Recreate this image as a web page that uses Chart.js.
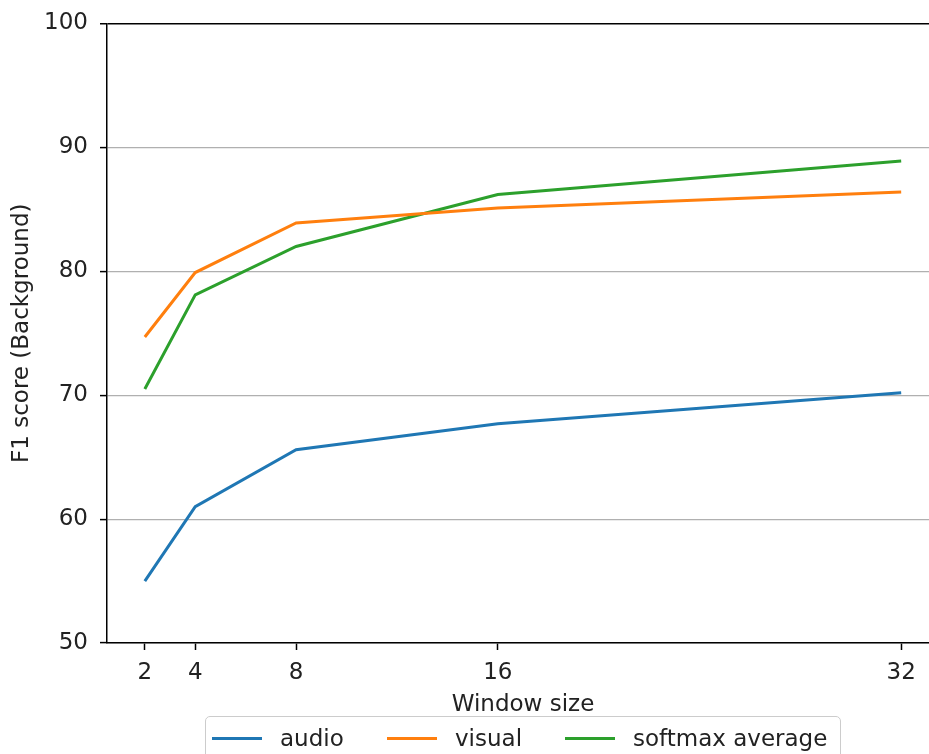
<!DOCTYPE html>
<html>
<head>
<meta charset="utf-8">
<script src="https://cdn.jsdelivr.net/npm/chart.js@4"></script>
<style>
html, body { margin: 0; padding: 0; overflow: hidden; background: #fff; }
#wrap { position: relative; width: 929px; height: 754px; overflow: hidden; }
#chart_canvas { position: absolute; left: 0; top: 0; }
#legend_box {
    position: absolute; left: 205px; top: 716px; width: 636px; height: 60px;
    border: 1px solid #cccccc; border-radius: 5px; box-sizing: border-box;
    font-family: 'DejaVu Sans', sans-serif; font-size: 23px; color: #222;
}
.leg_item { position: absolute; top: 6px; height: 30px; line-height: 30px; white-space: nowrap; }
.leg_line { position: absolute; top: 14px; width: 50px; height: 3px; }
.leg_text { position: absolute; left: 68px; top: 0; }
</style>
</head>
<body>
<div id="wrap">
    <canvas id="chart_canvas" width="945" height="754"></canvas>
    <div id="legend_box"></div>
</div>
<script>
// window sizes on the x axis
const window_sizes = [2, 4, 8, 16, 32];
// F1 scores
const audio_f1 = [55.0, 61.0, 65.6, 67.7, 70.2];
const visual_f1 = [74.7, 79.9, 83.9, 85.1, 86.4];
const softmax_f1 = [70.5, 78.1, 82.0, 86.2, 88.9];
const series_names = ['audio', 'visual', 'softmax average'];
const series_colors = ['#1f77b4', '#ff7f0e', '#2ca02c'];
const y_ticks = [50, 60, 70, 80, 90, 100];

const font_fam = "'DejaVu Sans', sans-serif";
const text_col = '#222222';

function to_points(vals) {
    return vals.map((v, i) => ({x: window_sizes[i], y: v}));
}

const all_vals = [audio_f1, visual_f1, softmax_f1];
const data_obj = {
    datasets: all_vals.map((vals, i) => ({
        label: series_names[i],
        data: to_points(vals),
        borderColor: series_colors[i],
        backgroundColor: series_colors[i],
        borderWidth: 3,
        pointRadius: 0,
        tension: 0,
        fill: false
    }))
};

new Chart(document.getElementById('chart_canvas'), {
    type: 'line',
    data: data_obj,
    options: {
        responsive: false,
        animation: false,
        layout: {padding: {top: 0, right: 6, bottom: 0, left: 0}},
        plugins: {
            legend: {display: false},
            tooltip: {enabled: false}
        },
        scales: {
            x: {
                type: 'linear',
                min: 0.5,
                max: 33.5,
                afterBuildTicks: axis => {
                    axis.ticks = window_sizes.map(v => ({value: v}));
                },
                afterFit: scale => { scale.height = 111; },
                ticks: {
                    autoSkip: false,
                    maxRotation: 0,
                    padding: 9,
                    color: text_col,
                    font: {family: font_fam, size: 23},
                    callback: v => String(v)
                },
                grid: {
                    drawOnChartArea: false,
                    drawTicks: true,
                    tickLength: 7,
                    tickColor: '#000',
                    tickWidth: 1.5
                },
                border: {display: true, color: '#000', width: 1.5},
                title: {
                    display: true,
                    text: 'Window size',
                    color: text_col,
                    font: {family: font_fam, size: 23},
                    padding: {top: 0, bottom: 35}
                }
            },
            y: {
                type: 'linear',
                min: 50,
                max: 100,
                afterBuildTicks: axis => {
                    axis.ticks = y_ticks.map(v => ({value: v}));
                },
                afterFit: scale => { scale.width = 107; },
                ticks: {
                    padding: 12,
                    color: text_col,
                    font: {family: font_fam, size: 23, lineHeight: 1.0}
                },
                grid: {
                    drawTicks: true,
                    tickLength: 7,
                    tickColor: '#000',
                    tickWidth: 1.5,
                    color: ctx => (ctx.tick && ctx.tick.value === 100) ? '#000' : '#b0b0b0',
                    lineWidth: ctx => (ctx.tick && ctx.tick.value === 100) ? 1.5 : 1.2
                },
                border: {display: true, color: '#000', width: 1.5},
                title: {
                    display: true,
                    text: 'F1 score (Background)',
                    color: text_col,
                    font: {family: font_fam, size: 23},
                    padding: {top: 8, bottom: 0}
                }
            }
        }
    }
});

// legend drawn as html below the axes
const legend_box = document.getElementById('legend_box');
const item_left = [6, 181, 359];
for (i = 0; i < series_names.length; i++) {
    temp_div = document.createElement('div');
    temp_div.className = 'leg_item';
    temp_div.style.left = item_left[i] + 'px';
    temp_div.innerHTML = '<div class="leg_line" style="background:' + series_colors[i] + '"></div>' +
        '<span class="leg_text">' + series_names[i] + '</span>';
    legend_box.append(temp_div);
}
</script>
</body>
</html>
